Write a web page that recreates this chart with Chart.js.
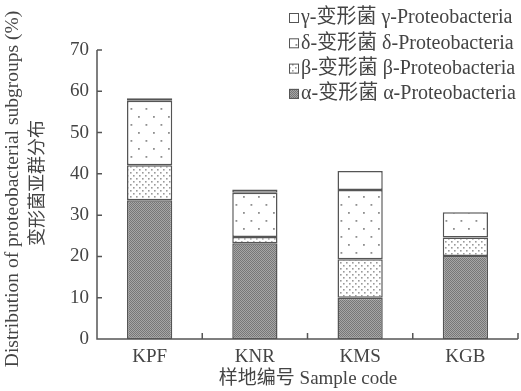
<!DOCTYPE html>
<html>
<head>
<meta charset="utf-8">
<script src="https://cdn.jsdelivr.net/npm/chart.js@4/dist/chart.umd.min.js"></script>
<style>
  html, body { margin: 0; padding: 0; background: #fff; }
  #wrap { width: 521px; height: 391px; }
</style>
</head>
<body>
<div id="wrap"><canvas id="c"></canvas></div>
<script>
// Sample sites and proteobacterial subgroup shares (%).
const sites = ['KPF', 'KNR', 'KMS', 'KGB'];
const alphaVals = [33.6, 23.2, 10.0, 20.1];
const betaVals = [8.5, 1.5, 9.3, 4.5];
const deltaVals = [15.6, 10.7, 16.8, 6.1];
const gammaVals = [0.6, 0.8, 4.6, 0];
const seriesLabels = [
    'α-变形菌 α-Proteobacteria',
    'β-变形菌 β-Proteobacteria',
    'δ-变形菌 δ-Proteobacteria',
    'γ-变形菌 γ-Proteobacteria',
];
const yTitleEn = 'Distribution of proteobacterial subgroups (%)';
const yTitleZh = '变形菌亚群分布';
const xTitle = '样地编号 Sample code';

const FONT = "'Liberation Serif', 'Noto Sans CJK SC', serif";
const INK = '#444';
const EDGE = '#555';

function makePattern(w, h, bg, dots, dotColor, size) {
    const c = document.createElement('canvas');
    c.width = w; c.height = h;
    const g = c.getContext('2d');
    g.fillStyle = bg;
    g.fillRect(0, 0, w, h);
    g.fillStyle = dotColor;
    dots.forEach(([x, y]) => g.fillRect(x, y, size, size));
    return g.createPattern(c, 'repeat');
}

const ctx = document.getElementById('c').getContext('2d');
// dense grey screen, fine dots, sparse dots, plain white
const fillAlpha = makePattern(2, 2, '#a6a6a6', [[0, 0], [1, 1]], '#777', 1);
const fillBeta = makePattern(6, 6, '#ffffff', [[1, 1], [4, 4]], '#9a9a9a', 1.6);
const fillDelta = makePattern(15, 16, '#ffffff', [[3, 4], [10.5, 12]], '#8f8f8f', 1.8);
const fillGamma = '#ffffff';

const framePlugin = {
    id: 'frame',
    afterDatasetsDraw(chart) {
        const { ctx: g, chartArea: a, scales: { x, y } } = chart;
        g.save();
        g.strokeStyle = EDGE;
        g.lineWidth = 1.5;
        g.beginPath();
        g.moveTo(a.left, a.top);
        g.lineTo(a.left, a.bottom);
        g.lineTo(a.right, a.bottom);
        // inward ticks on y
        y.ticks.forEach(t => {
            const py = y.getPixelForValue(t.value);
            g.moveTo(a.left, py);
            g.lineTo(a.left + 5, py);
        });
        // inward ticks on x at category boundaries
        const half = (x.getPixelForValue(1) - x.getPixelForValue(0)) / 2;
        sites.forEach((_, i) => {
            const px = x.getPixelForValue(i) + half;
            g.moveTo(px, a.bottom);
            g.lineTo(px, a.bottom - 6);
        });
        g.stroke();

        // axis titles
        g.fillStyle = INK;
        g.textAlign = 'center';
        g.textBaseline = 'middle';
        g.font = '19px ' + FONT;
        g.fillText(xTitle, 308, 379);
        g.save();
        g.translate(13, 189);
        g.rotate(-Math.PI / 2);
        g.font = '19.5px ' + FONT;
        g.fillText(yTitleEn, 0, 0);
        g.restore();
        g.save();
        g.translate(38, 183);
        g.rotate(-Math.PI / 2);
        g.font = '18px ' + FONT;
        g.fillText(yTitleZh, 0, 0);
        g.restore();

        // legend, top entry first
        const items = chart.data.datasets.slice().reverse();
        g.font = '20px ' + FONT;
        g.textAlign = 'left';
        items.forEach((ds, i) => {
            const cy = 18 + i * 25.3;
            g.fillStyle = ds.backgroundColor;
            g.fillRect(289, cy - 5, 10, 10);
            g.lineWidth = 1;
            g.strokeStyle = EDGE;
            g.strokeRect(289.5, cy - 4.5, 9, 9);
            g.fillStyle = INK;
            g.fillText(ds.label, 301, cy);
        });
        g.restore();
    },
};

const dsBase = {
    borderColor: EDGE,
    borderWidth: 1.5,
    borderSkipped: false,
    barPercentage: 1,
    categoryPercentage: 0.43,
};

new Chart(ctx, {
    type: 'bar',
    data: {
        labels: sites,
        datasets: [
            { ...dsBase, label: seriesLabels[0], data: alphaVals, backgroundColor: fillAlpha },
            { ...dsBase, label: seriesLabels[1], data: betaVals, backgroundColor: fillBeta },
            { ...dsBase, label: seriesLabels[2], data: deltaVals, backgroundColor: fillDelta },
            { ...dsBase, label: seriesLabels[3], data: gammaVals, backgroundColor: fillGamma },
        ],
    },
    options: {
        responsive: true,
        maintainAspectRatio: false,
        animation: false,
        layout: { padding: { left: 0, right: 3, top: 50, bottom: 0 } },
        plugins: {
            legend: { display: false },
            tooltip: { enabled: false },
        },
        scales: {
            x: {
                stacked: true,
                grid: { display: false, drawTicks: false },
                border: { display: false },
                ticks: { color: INK, font: { family: FONT, size: 19 }, padding: 7, maxRotation: 0 },
                afterFit: s => { s.height = 52; },
            },
            y: {
                stacked: true,
                min: 0,
                max: 70,
                grid: { display: false, drawTicks: false },
                border: { display: false },
                ticks: { stepSize: 10, color: INK, font: { family: FONT, size: 19 }, padding: 8 },
                afterFit: s => { s.width = 97; },
            },
        },
    },
    plugins: [framePlugin],
});
</script>
</body>
</html>
